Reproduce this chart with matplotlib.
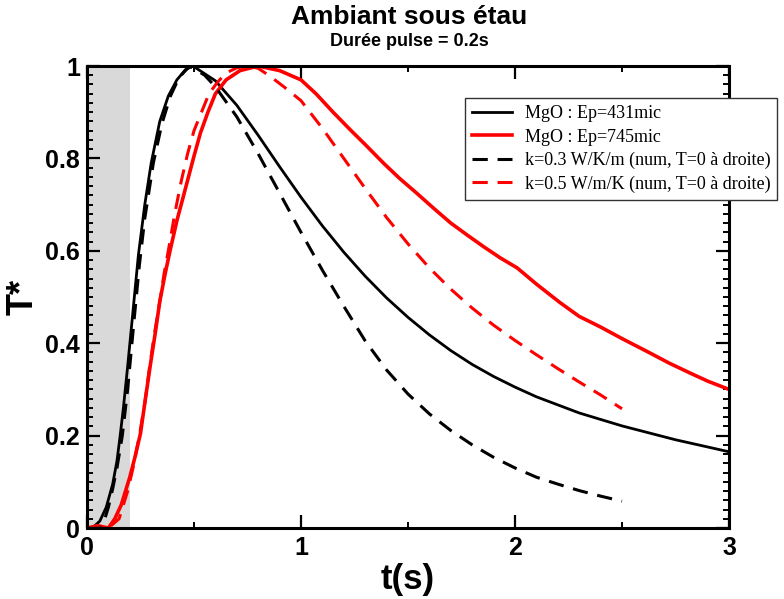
import numpy as np
import matplotlib
matplotlib.use('Agg')
import matplotlib.pyplot as plt
from matplotlib.ticker import MultipleLocator, FuncFormatter

plt.rcParams['font.family'] = ['Liberation Sans', 'DejaVu Sans']

# MgO : Ep=431mic (measured, black solid)
t_431 = [0.0, 0.03, 0.06, 0.09, 0.12, 0.14, 0.155, 0.17, 0.19, 0.215, 0.24, 0.27, 0.30,
         0.34, 0.38, 0.42, 0.46, 0.495, 0.6, 0.7, 0.8, 0.9, 1.0, 1.1, 1.2, 1.3, 1.4, 1.5,
         1.6, 1.7, 1.8, 1.9, 2.0, 2.1, 2.3, 2.5, 2.75, 3.0]
T_431 = [0.0, 0.002, 0.015, 0.045, 0.095, 0.145, 0.20, 0.26, 0.35, 0.47, 0.59, 0.70, 0.79,
         0.88, 0.935, 0.97, 0.992, 1.0, 0.968, 0.915, 0.85, 0.782, 0.716, 0.654, 0.597,
         0.545, 0.498, 0.456, 0.418, 0.384, 0.354, 0.328, 0.305, 0.284, 0.249, 0.221,
         0.191, 0.165]

# MgO : Ep=745mic (measured, red solid)
t_745 = [0.0, 0.05, 0.10, 0.13, 0.16, 0.20, 0.225, 0.25, 0.27, 0.295, 0.32, 0.34, 0.365,
         0.388, 0.42, 0.467, 0.5, 0.53, 0.565, 0.6, 0.65, 0.715, 0.8, 0.9, 1.0, 1.07, 1.15,
         1.23, 1.3, 1.385, 1.46, 1.54, 1.62, 1.70, 1.78, 1.85, 1.93, 2.01, 2.1, 2.21, 2.3,
         2.40, 2.5, 2.63, 2.72, 2.82, 2.9, 3.0]
T_745 = [0.0, 0.005, 0.0, 0.02, 0.05, 0.11, 0.155, 0.205, 0.27, 0.35, 0.425, 0.49, 0.55,
         0.60, 0.665, 0.747, 0.805, 0.855, 0.90, 0.94, 0.97, 0.99, 1.0, 0.99, 0.97, 0.94,
         0.90, 0.862, 0.83, 0.79, 0.757, 0.725, 0.692, 0.66, 0.633, 0.61, 0.585, 0.563,
         0.528, 0.488, 0.458, 0.435, 0.41, 0.379, 0.357, 0.335, 0.318, 0.300]

# k=0.3 W/K/m (numerical, black dashed)
t_k03 = [0.0, 0.06, 0.08, 0.10, 0.12, 0.14, 0.165, 0.19, 0.22, 0.245, 0.27, 0.31, 0.35,
         0.39, 0.43, 0.48, 0.55, 0.6, 0.7, 0.8, 0.9, 1.0, 1.1, 1.2, 1.3, 1.4, 1.5,
         1.6, 1.7, 1.8, 1.9, 2.0, 2.1, 2.2, 2.3, 2.4, 2.5]
T_k03 = [0.0, 0.0, 0.015, 0.045, 0.085, 0.13, 0.20, 0.30, 0.45, 0.57, 0.67, 0.79, 0.875,
         0.935, 0.975, 1.0, 0.98, 0.955, 0.89, 0.81, 0.725, 0.64, 0.558, 0.48, 0.405,
         0.342, 0.29, 0.247, 0.211, 0.18, 0.153, 0.13, 0.11, 0.095, 0.081, 0.069, 0.058]

# k=0.5 W/m/K (numerical, red dashed)
t_k05 = [0.0, 0.10, 0.15, 0.19, 0.215, 0.245, 0.27, 0.29, 0.315, 0.34, 0.36, 0.38, 0.41,
         0.44, 0.47, 0.50, 0.535, 0.57, 0.61, 0.65, 0.70, 0.75, 0.8, 0.855, 0.92, 1.0, 1.1,
         1.2, 1.3, 1.4, 1.5, 1.6, 1.7, 1.8, 1.9, 2.0, 2.1, 2.2, 2.3, 2.4, 2.5]
T_k05 = [0.0, 0.0, 0.02, 0.08, 0.13, 0.20, 0.27, 0.34, 0.42, 0.49, 0.55, 0.60, 0.68,
         0.75, 0.81, 0.86, 0.90, 0.94, 0.965, 0.985, 0.996, 1.0, 0.995, 0.978, 0.955, 0.925,
         0.865, 0.80, 0.735, 0.672, 0.615, 0.563, 0.517, 0.476, 0.439, 0.406, 0.375, 0.345,
         0.316, 0.288, 0.258]

x_ticks = [0, 1, 2, 3]
y_ticks = [0, 0.2, 0.4, 0.6, 0.8, 1.0]

fig = plt.figure(figsize=(7.84, 5.99), dpi=100)
ax = fig.add_axes([87 / 784, 1 - 528 / 599, (729 - 87) / 784, (528 - 66) / 599])

# pulse duration
ax.axvspan(0, 0.2, color='#d9d9d9', lw=0, zorder=0)

ax.plot(t_431, T_431, color='black', lw=2.0, label='MgO : Ep=431mic')
ax.plot(t_745, T_745, color='red', lw=2.6, label='MgO : Ep=745mic')
ax.plot(t_k03, T_k03, color='black', lw=2.2, dashes=(5, 3.2),
        label='k=0.3 W/K/m (num, T=0 à droite)')
ax.plot(t_k05, T_k05, color='red', lw=2.2, dashes=(5, 3.2),
        label='k=0.5 W/m/K (num, T=0 à droite)')

ax.set_xlim(0, 3)
ax.set_ylim(0, 1)
ax.set_xticks(x_ticks)
ax.set_yticks(y_ticks)
ax.xaxis.set_minor_locator(MultipleLocator(0.5))
ax.yaxis.set_minor_locator(MultipleLocator(0.02))
ax.yaxis.set_major_formatter(FuncFormatter(lambda v, p: f'{v:g}'))

for s in ax.spines.values():
    s.set_linewidth(2.2)
ax.tick_params(which='both', direction='in', top=True, right=True)
ax.tick_params(which='major', length=9.5, width=1.6, labelsize=18, pad=6)
ax.tick_params(which='minor', length=4.5, width=1.4)
for lab in ax.get_xticklabels() + ax.get_yticklabels():
    lab.set_fontweight('bold')
ax.tick_params(axis='y', which='major', pad=5)

ax.set_xlabel('t(s)', fontsize=25, fontweight='bold', labelpad=2)
ax.set_ylabel('T*', fontsize=26, fontweight='bold', va='center')
ax.yaxis.set_label_coords(-0.10, 0.5)

fig.text(409 / 784, 1 - 17 / 599, 'Ambiant sous étau', ha='center', va='center',
         fontsize=19, fontweight='bold')
fig.text(409 / 784, 1 - 42 / 599, 'Durée pulse = 0.2s', ha='center', va='center',
         fontsize=13, fontweight='bold')

leg = fig.legend(loc='upper left', bbox_to_anchor=(465 / 784, 1 - 98 / 599),
                 borderaxespad=0, fancybox=False, framealpha=1, edgecolor='#333333',
                 prop={'family': 'Liberation Serif', 'size': 13},
                 handlelength=2.2, handletextpad=0.7, labelspacing=0.35, borderpad=0.4)
leg.get_frame().set_linewidth(1.0)

fig.savefig('out.png', dpi=100)
